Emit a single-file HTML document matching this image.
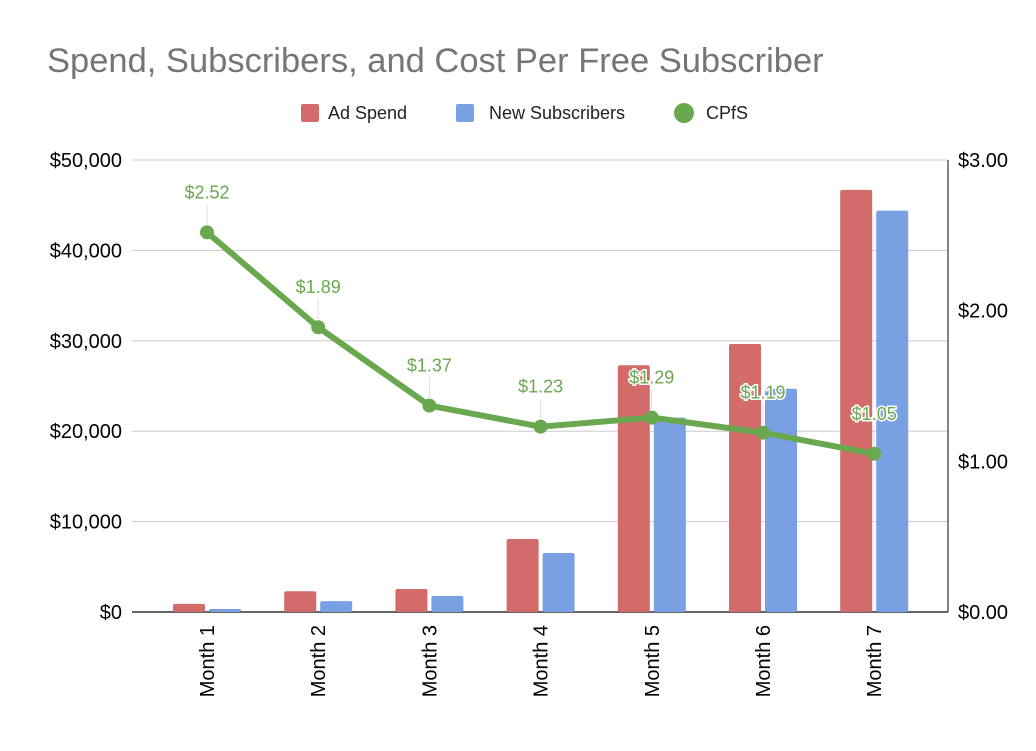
<!DOCTYPE html>
<html><head><meta charset="utf-8"><style>
body{margin:0;background:#fff;font-family:"Liberation Sans",Arial,sans-serif}
svg text{font-family:"Liberation Sans",Arial,sans-serif}
</style></head><body>
<svg id="c" width="1036" height="746" xmlns="http://www.w3.org/2000/svg">
<rect width="1036" height="746" fill="#fff"/>
<text x="47" y="72" font-size="34.5" fill="#757575">Spend, Subscribers, and Cost Per Free Subscriber</text>
<g>
<rect x="301" y="104" width="18" height="18" rx="2" fill="#d46b6b"/>
<text x="328" y="119" font-size="18" fill="#222">Ad Spend</text>
<rect x="456" y="104" width="18" height="18" rx="2" fill="#7aa0e4"/>
<text x="489" y="119" font-size="18" fill="#222">New Subscribers</text>
<circle cx="684" cy="113" r="10" fill="#6aa84f"/>
<text x="706" y="119" font-size="18" fill="#222">CPfS</text>
</g>
<g id="grid"></g><g id="bars"></g><g id="line"></g><g id="labels"></g>
</svg>
<script>
const categories=["Month 1","Month 2","Month 3","Month 4","Month 5","Month 6","Month 7"];
const adSpend=[900,2300,2550,8080,27300,29650,46700];
const newSubs=[330,1200,1770,6530,21500,24700,44400];
const cpfs=[2.52,1.89,1.37,1.23,1.29,1.19,1.05];
const leftTicks=[0,10000,20000,30000,40000,50000];
const leftTickLabels=["$0","$10,000","$20,000","$30,000","$40,000","$50,000"];
const rightTicks=[0,1,2,3];
const rightTickLabels=["$0.00","$1.00","$2.00","$3.00"];
const NS="http://www.w3.org/2000/svg";
const plotTop=160,plotBot=612,gx0=132,gx1=948;
const yL=v=>plotBot-(v/50000)*(plotBot-plotTop);
const yR=v=>plotBot-(v/3)*(plotBot-plotTop);
const xC=i=>207+i*111.2;
function mk(t,a,p){const e=document.createElementNS(NS,t);for(const k in a)e.setAttribute(k,a[k]);p.appendChild(e);return e;}
const grid=document.getElementById('grid');
leftTicks.forEach((v,i)=>{
 const l=mk('line',{x1:gx0,x2:gx1,y1:yL(v),y2:yL(v),stroke:v===0?'#333':'#ccc','stroke-width':v===0?1.5:1},grid);
 
 
 const t=mk('text',{x:122,y:yL(v)+7,'text-anchor':'end','font-size':20,fill:'#000'},grid);
 t.textContent=leftTickLabels[i];
 
 
});
rightTicks.forEach((v,i)=>{
 const t=mk('text',{x:958,y:yR(v)+7,'font-size':20,fill:'#000'},grid);
 t.textContent=rightTickLabels[i];
 
 
});
const ra=mk('line',{x1:gx1,x2:gx1,y1:plotTop,y2:plotBot,stroke:'#333','stroke-width':1.2},grid);


const bars=document.getElementById('bars');
categories.forEach((c,i)=>{
 const x=xC(i);
 const r=mk('rect',{x:x-34,y:yL(adSpend[i]),width:32,height:plotBot-yL(adSpend[i]),rx:2,fill:'#d46b6b'},bars);
 
 
 const b=mk('rect',{x:x+2,y:yL(newSubs[i]),width:32,height:plotBot-yL(newSubs[i]),rx:2,fill:'#7aa0e4'},bars);
 
 
 const t=mk('text',{x:0,y:0,'text-anchor':'end','font-size':20,fill:'#000',transform:`translate(${x+7},625) rotate(-90)`},bars);
 t.textContent=c;
 
 
});
const line=document.getElementById('line');
const pl=mk('polyline',{points:cpfs.map((v,i)=>xC(i)+','+yR(v)).join(' '),fill:'none',stroke:'#6aa84f','stroke-width':6,'stroke-linejoin':'round'},line);


const lab=document.getElementById('labels');
cpfs.forEach((v,i)=>{
 const x=xC(i),y=yR(v);
 const ld=mk('line',{x1:x,x2:x,y1:y-28,y2:y-8,stroke:'#ddd','stroke-width':1},line);
 
 
 const p=mk('circle',{cx:x,cy:y,r:7,fill:'#6aa84f'},line);
 
 
 const t=mk('text',{x:x,y:y-34,'text-anchor':'middle','font-size':18,fill:'#6aa84f',stroke:'#fff','stroke-width':3,'paint-order':'stroke'},lab);
 t.textContent='$'+v.toFixed(2);
 
 
});
</script>
</body></html>
